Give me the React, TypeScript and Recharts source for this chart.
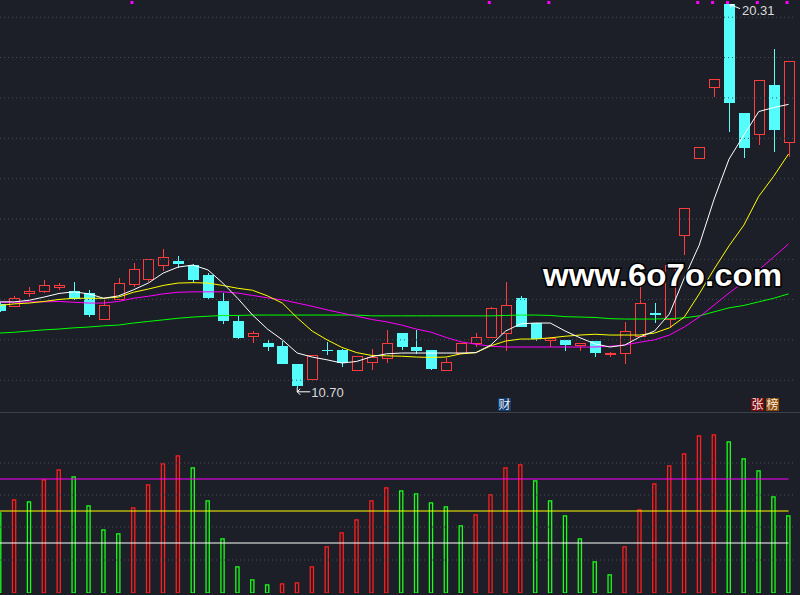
import React from "react";
import {
  ComposedChart,
  Bar,
  Line,
  XAxis,
  YAxis,
  ReferenceLine,
  ReferenceDot,
} from "recharts";

// one entry per trading day, oldest first
const days = Array.from({ length: 54 }, (_, i) => String(i + 1));

const open = [
  12.8, 12.74, 13.06, 13.12, 13.2, 13.12, 13.07, 12.42, 12.92, 13.29,
  13.41, 13.77, 13.87, 13.77, 13.52, 12.87, 12.37, 11.98, 11.82, 11.75,
  11.3, 10.92, 11.65, 11.65, 11.14, 11.34, 11.44, 12.07, 11.72, 11.65,
  11.14, 11.55, 11.82, 11.97, 12.06, 12.95, 12.32, 11.89, 11.9, 11.76,
  11.87, 11.53, 11.57, 11.99, 12.57, 12.42, 14.52, 16.43, 18.2, 20.3,
  17.57, 17.04, 18.27, 16.84,
];
const high = [
  12.85, 13.0, 13.22, 13.4, 13.32, 13.35, 13.15, 12.9, 13.45, 13.82,
  13.9, 14.17, 14.0, 13.8, 13.57, 13.07, 12.5, 12.12, 11.9, 11.87,
  11.3, 11.52, 11.85, 11.67, 11.5, 11.67, 12.15, 12.07, 12.15, 11.65,
  11.45, 11.82, 12.07, 12.72, 13.35, 13.0, 12.32, 11.98, 11.9, 11.82,
  11.87, 11.6, 12.34, 13.4, 12.82, 13.76, 15.19, 16.71, 18.42, 20.31,
  17.57, 18.4, 19.17, 18.87,
];
const low = [
  12.6, 12.72, 12.98, 13.08, 13.15, 12.9, 12.47, 12.42, 12.92, 13.23,
  13.35, 13.63, 13.7, 13.35, 12.92, 12.3, 11.92, 11.81, 11.62, 11.3,
  10.7, 10.88, 11.52, 11.22, 11.14, 11.14, 11.32, 11.65, 11.54, 11.15,
  11.14, 11.55, 11.73, 11.97, 11.62, 12.21, 11.88, 11.73, 11.63, 11.63,
  11.48, 11.48, 11.3, 11.99, 12.32, 12.19, 14.02, 16.43, 17.98, 17.1,
  16.46, 16.78, 16.61, 16.47,
];
const close = [
  12.63, 12.94, 13.12, 13.27, 13.25, 12.92, 12.53, 12.77, 13.32, 13.67,
  13.9, 13.95, 13.8, 13.4, 12.95, 12.37, 11.95, 12.05, 11.72, 11.3,
  10.75, 11.52, 11.62, 11.32, 11.49, 11.47, 11.82, 11.72, 11.62, 11.17,
  11.34, 11.82, 11.97, 12.69, 12.77, 12.21, 11.92, 11.94, 11.76, 11.82,
  11.58, 11.55, 12.12, 12.82, 12.53, 13.76, 15.19, 16.71, 18.42, 17.83,
  16.7, 18.39, 17.16, 18.87,
];

const ma5 = [
  12.85, 12.85, 12.89, 12.97, 13.06, 13.1, 13.05, 12.94, 13.0, 13.15,
  13.32, 13.57, 13.72, 13.77, 13.65, 13.32, 12.94, 12.52, 12.17, 11.9,
  11.57, 11.47, 11.4, 11.32, 11.36, 11.48, 11.55, 11.57, 11.57, 11.57,
  11.57, 11.57, 11.58, 11.77, 12.12, 12.3, 12.32, 12.32, 12.12, 11.95,
  11.8, 11.72, 11.77, 11.97, 12.12, 12.55, 13.45, 14.27, 15.42, 16.42,
  17.02, 17.61, 17.71, 17.79,
];
const ma10 = [
  12.76, 12.8, 12.82, 12.86, 12.91, 12.94, 12.94, 12.94, 12.97, 13.09,
  13.17, 13.26, 13.32, 13.33, 13.32, 13.26, 13.19, 13.14, 13.0, 12.82,
  12.45, 12.12, 11.9, 11.71, 11.58, 11.51, 11.5, 11.49, 11.47, 11.46,
  11.47, 11.55, 11.58, 11.75, 11.87, 11.92, 11.92, 11.95, 11.99, 12.02,
  12.04, 12.02, 12.02, 12.02, 12.07, 12.2, 12.47, 13.05, 13.67, 14.25,
  14.77, 15.49, 15.99, 16.55,
];
const ma20 = [
  12.84, 12.84, 12.85, 12.85, 12.86, 12.84, 12.82, 12.82, 12.86, 12.94,
  12.99, 13.05, 13.09, 13.1, 13.1, 13.1, 13.07, 13.01, 12.95, 12.9,
  12.82, 12.74, 12.65, 12.57, 12.49, 12.41, 12.35, 12.27, 12.17, 12.09,
  11.96, 11.85, 11.79, 11.74, 11.72, 11.72, 11.72, 11.72, 11.72, 11.72,
  11.72, 11.74, 11.77, 11.84, 11.9, 12.02, 12.22, 12.47, 12.77, 13.07,
  13.35, 13.65, 13.97, 14.3,
];
const ma60 = [
  12.07, 12.09, 12.12, 12.15, 12.17, 12.2, 12.22, 12.25, 12.27, 12.32,
  12.36, 12.4, 12.44, 12.47, 12.49, 12.51, 12.51, 12.52, 12.52, 12.52,
  12.52, 12.52, 12.52, 12.52, 12.52, 12.5, 12.5, 12.5, 12.5, 12.5,
  12.5, 12.5, 12.5, 12.5, 12.51, 12.52, 12.52, 12.51, 12.48, 12.47,
  12.46, 12.43, 12.42, 12.42, 12.42, 12.43, 12.45, 12.5, 12.6, 12.7,
  12.76, 12.85, 12.94, 13.05,
];

// lower panel (hollow bars), 1 = red, 0 = green
const vol = [
  8.07, 9.37, 9.17, 11.37, 12.37, 11.67, 8.77, 6.37, 5.97, 8.57,
  10.87, 12.97, 13.77, 12.57, 9.27, 5.47, 2.67, 1.37, 0.87, 0.97,
  1.07, 2.67, 4.67, 6.07, 7.37, 9.27, 10.57, 10.27, 9.97, 9.07,
  8.67, 6.77, 7.87, 9.87, 12.57, 12.87, 11.27, 9.27, 7.77, 5.47,
  3.17, 1.87, 4.67, 8.37, 10.97, 12.77, 13.97, 15.77, 15.87, 15.17,
  13.47, 12.27, 9.67, 7.77,
];
const volUp = [
  0, 1, 0, 1, 1, 0, 0, 0, 0, 1, 1, 1, 1, 0, 0, 0, 0, 0, 0, 1,
  1, 1, 1, 1, 1, 1, 1, 0, 0, 0, 0, 0, 1, 1, 1, 1, 0, 0, 0, 0,
  0, 0, 1, 1, 1, 1, 1, 1, 1, 0, 0, 0, 0, 0,
];
const volLevels = [11.4, 8.2, 5.0];
const volLevelColors = ["#ff00ff", "#ffff00", "#ffffff"];
const volGrid = [13.0, 9.8, 6.6, 3.3];

const signalDays = [9, 33, 37, 47, 48, 49, 51, 53];
const priceGrid = [19.97, 18.96, 17.95, 16.94, 15.93, 14.92, 13.91, 12.91, 11.9, 10.89];

const YMIN = 10.12;
const YMAX = 20.4;

const BG = "#1c1f27";
const RED = "#ff3b3b";
const CYAN = "#54fcfc";
const GRID = "#484c57";

const rows = days.map((d, i) => ({
  d,
  open: open[i],
  high: high[i],
  low: low[i],
  close: close[i],
  ma5: ma5[i],
  ma10: ma10[i],
  ma20: ma20[i],
  ma60: ma60[i],
  vol: vol[i],
  vup: volUp[i],
}));

const hiIdx = high.indexOf(Math.max(...high));
const loIdx = low.indexOf(Math.min(...low));

const Candle = (props: any) => {
  const { x, y, width, height, payload } = props;
  if (!payload) return null;
  const { open: o, close: c, high: h, low: l } = payload;
  const top = Math.min(y, y + height);
  const k = Math.abs(height) / (h - l || 1);
  const yOf = (p: number) => top + (h - p) * k;
  const cx = Math.round(x + width / 2) + 0.5;
  const bTop = yOf(Math.max(o, c));
  const bBot = yOf(Math.min(o, c));
  const bH = Math.max(bBot - bTop, 1);
  if (c >= o) {
    return (
      <g shapeRendering="crispEdges">
        <line x1={cx} x2={cx} y1={yOf(h)} y2={bTop} stroke={RED} />
        <line x1={cx} x2={cx} y1={bTop + bH} y2={yOf(l)} stroke={RED} />
        <rect x={cx - 5} y={bTop} width={10} height={bH} fill="none" stroke={RED} />
      </g>
    );
  }
  return (
    <g shapeRendering="crispEdges">
      <line x1={cx} x2={cx} y1={yOf(h)} y2={yOf(l)} stroke={CYAN} />
      <rect x={cx - 5.5} y={bTop} width={11} height={bH} fill={CYAN} />
    </g>
  );
};

const VolBar = (props: any) => {
  const { x, y, width, height, payload } = props;
  if (!payload) return null;
  return (
    <rect
      x={x + 0.6}
      y={y + 0.6}
      width={width - 1.2}
      height={Math.max(height - 0.6, 0)}
      fill="none"
      stroke={payload.vup ? "#ff1e1e" : "#19ff19"}
      strokeWidth={1.3}
    />
  );
};

const HighTag = (p: any) => (
  <g>
    <path
      d={`M${p.cx + 1},${p.cy + 1} L${p.cx + 11},${p.cy + 5} M${p.cx + 1},${p.cy + 1} l4,0 M${p.cx + 1},${p.cy + 1} l1,3`}
      stroke="#ffffff"
      fill="none"
    />
    <text x={p.cx + 13} y={p.cy + 11} fill="#dadada" fontSize={13} fontFamily="Liberation Sans, Arial, sans-serif">
      {high[hiIdx].toFixed(2)}
    </text>
  </g>
);

const LowTag = (p: any) => (
  <g>
    <path
      d={`M${p.cx},${p.cy} L${p.cx},${p.cy + 4} L${p.cx + 13},${p.cy + 4} M${p.cx},${p.cy + 4} l3,-3 M${p.cx},${p.cy + 4} l3,3`}
      stroke="#ffffff"
      fill="none"
    />
    <text x={p.cx + 14} y={p.cy + 9} fill="#dadada" fontSize={13} fontFamily="Liberation Sans, Arial, sans-serif">
      {low[loIdx].toFixed(2)}
    </text>
  </g>
);

const SignalMark = (p: any) => (
  <rect x={p.cx - 3} y={1} width={3} height={3} fill="#ff00ff" />
);

const maLines = [
  { key: "ma60", color: "#00ff00" },
  { key: "ma20", color: "#ff00ff" },
  { key: "ma10", color: "#ffff00" },
  { key: "ma5", color: "#ffffff" },
];

export default function App() {
  return (
    <div
      style={{
        position: "fixed",
        left: 0,
        top: 0,
        width: 800,
        height: 595,
        background: BG,
        overflow: "hidden",
      }}
    >
      <div style={{ position: "absolute", left: -8, top: 0 }}>
        <ComposedChart width={804} height={411} data={rows} margin={{ top: 0, right: 0, bottom: 0, left: 0 }}>
          <XAxis dataKey="d" hide />
          <YAxis hide domain={[YMIN, YMAX]} allowDataOverflow />
          {priceGrid.map((p) => (
            <ReferenceLine key={p} y={p} stroke={GRID} strokeDasharray="1 3" />
          ))}
          <Bar
            dataKey={(r: any) => [r.low, r.high]}
            barSize={11}
            shape={<Candle />}
            activeBar={false}
            isAnimationActive={false}
          />
          {maLines.map((m) => (
            <Line
              key={m.key}
              dataKey={m.key}
              stroke={m.color}
              dot={false}
              activeDot={false}
              strokeWidth={1}
              isAnimationActive={false}
            />
          ))}
          {signalDays.map((i) => (
            <ReferenceDot key={i} x={days[i]} y={YMAX} r={0} shape={SignalMark} ifOverflow="visible" />
          ))}
          <ReferenceDot x={days[hiIdx]} y={high[hiIdx]} r={0} shape={HighTag} ifOverflow="visible" />
          <ReferenceDot x={days[loIdx]} y={low[loIdx]} r={0} shape={LowTag} ifOverflow="visible" />
        </ComposedChart>
      </div>

      <div style={{ position: "absolute", left: 0, top: 411.5, width: 800, height: 1.3, background: "#3b404c" }} />

      <div style={{ position: "absolute", left: -8, top: 412 }}>
        <ComposedChart width={804} height={183} data={rows} margin={{ top: 0, right: 0, bottom: 2, left: 0 }}>
          <XAxis dataKey="d" hide />
          <YAxis hide domain={[0, 18.1]} allowDataOverflow />
          {volGrid.map((v) => (
            <ReferenceLine key={v} y={v} stroke={GRID} strokeDasharray="1 3" />
          ))}
          {volLevels.map((v, i) => (
            <ReferenceLine
              key={v}
              segment={[
                { x: days[0], y: v },
                { x: days[days.length - 1], y: v },
              ]}
              stroke={volLevelColors[i]}
              strokeWidth={1}
            />
          ))}
          <Bar dataKey="vol" barSize={4.4} shape={<VolBar />} activeBar={false} isAnimationActive={false} />
        </ComposedChart>
      </div>

      <svg
        width={800}
        height={595}
        style={{ position: "absolute", left: 0, top: 0, pointerEvents: "none" }}
      >
        <text
          x={543}
          y={286}
          fontSize={32}
          fontWeight="bold"
          fontFamily="Liberation Sans, Arial, sans-serif"
          fill="#ffffff"
          stroke="#000000"
          strokeWidth={3}
          paintOrder="stroke"
          textLength={239}
          lengthAdjust="spacingAndGlyphs"
        >
          www.6o7o.com
        </text>
        <g fontFamily="Noto Sans CJK SC, sans-serif" fontSize={12} textAnchor="middle">
          <rect x={498} y={398} width={13} height={13} fill="#123d70" />
          <text x={504.5} y={409} fill="#e8eef8">财</text>
          <rect x={751} y={398} width={13} height={13} fill="#7d0d0d" />
          <text x={757.5} y={409} fill="#f4e6e6">张</text>
          <rect x={766} y={398} width={13} height={13} fill="#8c4a0c" />
          <text x={772.5} y={409} fill="#f8ecdc">榜</text>
        </g>
      </svg>
    </div>
  );
}
